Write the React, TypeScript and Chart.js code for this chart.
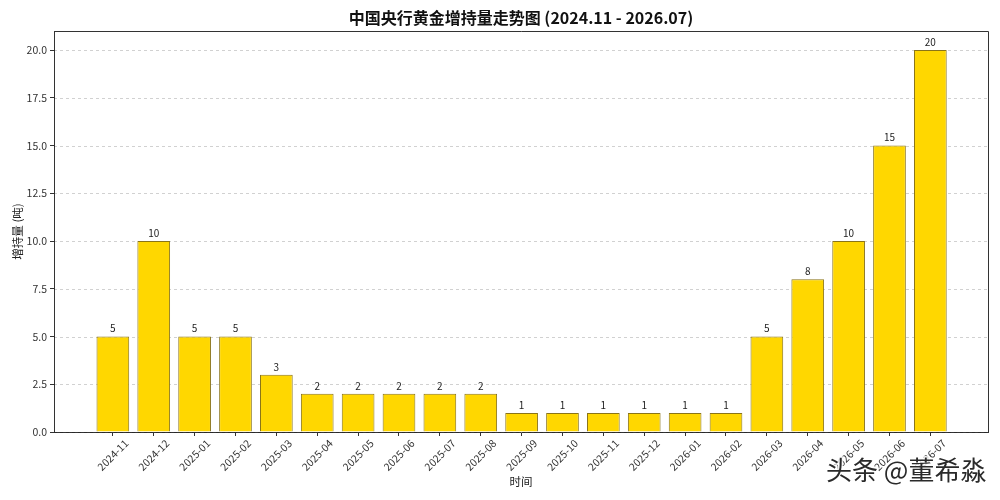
import React, { useEffect, useRef } from "react";
import { Chart, registerables } from "chart.js";

Chart.register(...registerables);

const categories: string[] = [
  "2024-11", "2024-12", "2025-01", "2025-02", "2025-03", "2025-04", "2025-05",
  "2025-06", "2025-07", "2025-08", "2025-09", "2025-10", "2025-11", "2025-12",
  "2026-01", "2026-02", "2026-03", "2026-04", "2026-05", "2026-06", "2026-07",
];
const values: number[] = [5, 10, 5, 5, 3, 2, 2, 2, 2, 2, 1, 1, 1, 1, 1, 1, 5, 8, 10, 15, 20];
const yTickValues: number[] = [0, 2.5, 5, 7.5, 10, 12.5, 15, 17.5, 20];

const titleText = "中国央行黄金增持量走势图 (2024.11 - 2026.07)";
const xTitle = "时间";
const yTitle = "增持量 (吨)";
const watermark = "头条 @董希淼";

const FONT = '"Noto Sans CJK SC", "Noto Sans", sans-serif';

export default function App() {
  const ref = useRef<HTMLCanvasElement | null>(null);

  useEffect(() => {
    document.body.style.margin = "0";
    const canvas = ref.current;
    if (!canvas) return;

    const drawPlugin = {
      id: "customDraw",
      beforeDatasetsDraw(chart: any) {
        const { ctx, chartArea } = chart;
        const ys = chart.scales.y;
        ctx.save();
        ctx.strokeStyle = "rgba(0,0,0,0.18)";
        ctx.lineWidth = 1;
        ctx.setLineDash([3, 3]);
        yTickValues.forEach((v) => {
          const py = Math.round(ys.getPixelForValue(v)) + 0.5;
          ctx.beginPath();
          ctx.moveTo(chartArea.left, py);
          ctx.lineTo(chartArea.right, py);
          ctx.stroke();
        });
        ctx.restore();
      },
      afterDatasetsDraw(chart: any) {
        const { ctx, chartArea } = chart;
        const xs = chart.scales.x;
        const ys = chart.scales.y;
        ctx.save();
        // frame top & right
        ctx.strokeStyle = "#333";
        ctx.lineWidth = 1;
        ctx.beginPath();
        ctx.moveTo(chartArea.left, Math.round(chartArea.top) + 0.5);
        ctx.lineTo(Math.round(chartArea.right) + 0.5, Math.round(chartArea.top) + 0.5);
        ctx.lineTo(Math.round(chartArea.right) + 0.5, chartArea.bottom);
        ctx.stroke();

        // value labels
        ctx.fillStyle = "#222";
        ctx.font = `10px ${FONT}`;
        ctx.textAlign = "center";
        ctx.textBaseline = "middle";
        values.forEach((v, i) => {
          ctx.fillText(String(v), xs.getPixelForValue(i), ys.getPixelForValue(v) - 8);
        });

        // x tick labels rotated
        ctx.font = `10.5px ${FONT}`;
        ctx.fillStyle = "#333";
        categories.forEach((c, i) => {
          const px = xs.getPixelForValue(i);
          ctx.save();
          ctx.translate(px, chartArea.bottom + 23);
          ctx.rotate(-Math.PI / 4);
          ctx.textAlign = "center";
          ctx.textBaseline = "middle";
          ctx.fillText(c, 0, 0);
          ctx.restore();
        });

        // title
        const cx = (chartArea.left + chartArea.right) / 2;
        ctx.fillStyle = "#111";
        ctx.font = `bold 16px ${FONT}`;
        ctx.textAlign = "center";
        ctx.textBaseline = "middle";
        ctx.fillText(titleText, cx, 18);

        // axis titles
        ctx.font = `11.5px ${FONT}`;
        ctx.fillStyle = "#222";
        ctx.fillText(xTitle, cx, chartArea.bottom + 50);
        ctx.save();
        ctx.translate(18, (chartArea.top + chartArea.bottom) / 2);
        ctx.rotate(-Math.PI / 2);
        ctx.fillText(yTitle, 0, 0);
        ctx.restore();

        // watermark
        ctx.font = `26px ${FONT}`;
        ctx.textAlign = "left";
        ctx.textBaseline = "middle";
        ctx.lineWidth = 3;
        ctx.strokeStyle = "rgba(255,255,255,0.8)";
        ctx.strokeText(watermark, 826, 470);
        ctx.fillStyle = "#2a2a2a";
        ctx.fillText(watermark, 826, 470);
        ctx.restore();
      },
    };

    const chart = new Chart(canvas, {
      type: "bar",
      data: {
        datasets: [
          {
            data: values.map((v, i) => ({ x: i, y: v })),
            backgroundColor: "#FFD700",
            borderColor: "#8a7418",
            borderWidth: 1,
            barPercentage: 0.8,
            categoryPercentage: 1,
          },
        ],
      },
      options: {
        animation: false,
        responsive: true,
        maintainAspectRatio: false,
        layout: { padding: { top: 31, right: 12, left: 0, bottom: 0 } },
        plugins: {
          legend: { display: false },
          tooltip: { enabled: false },
          title: { display: false },
        },
        scales: {
          x: {
            type: "linear",
            min: -1.44,
            max: 21.41,
            offset: false,
            grid: {
              display: true,
              offset: false,
              drawOnChartArea: false,
              drawTicks: true,
              tickLength: 4,
              tickColor: "#333",
            },
            border: { display: true, color: "#333", width: 1 },
            ticks: { display: false },
            afterBuildTicks: (s: any) => {
              s.ticks = categories.map((_, i) => ({ value: i }));
            },
            afterFit: (s: any) => {
              s.height = 68;
            },
          },
          y: {
            type: "linear",
            min: 0,
            max: 21,
            grid: {
              display: true,
              offset: false,
              drawOnChartArea: false,
              drawTicks: true,
              tickLength: 4,
              tickColor: "#333",
            },
            border: { display: true, color: "#333", width: 1 },
            ticks: {
              padding: 3,
              color: "#333",
              font: { family: FONT, size: 10.5 },
              callback: (v: any) => Number(v).toFixed(1),
            },
            afterBuildTicks: (s: any) => {
              s.ticks = yTickValues.map((v) => ({ value: v }));
            },
            afterFit: (s: any) => {
              s.width = 54;
            },
          },
        },
      },
      plugins: [drawPlugin],
    } as any);

    return () => chart.destroy();
  }, []);

  return (
    <div style={{ width: 1000, height: 500, position: "relative", background: "#fff" }}>
      <canvas ref={ref} />
    </div>
  );
}
